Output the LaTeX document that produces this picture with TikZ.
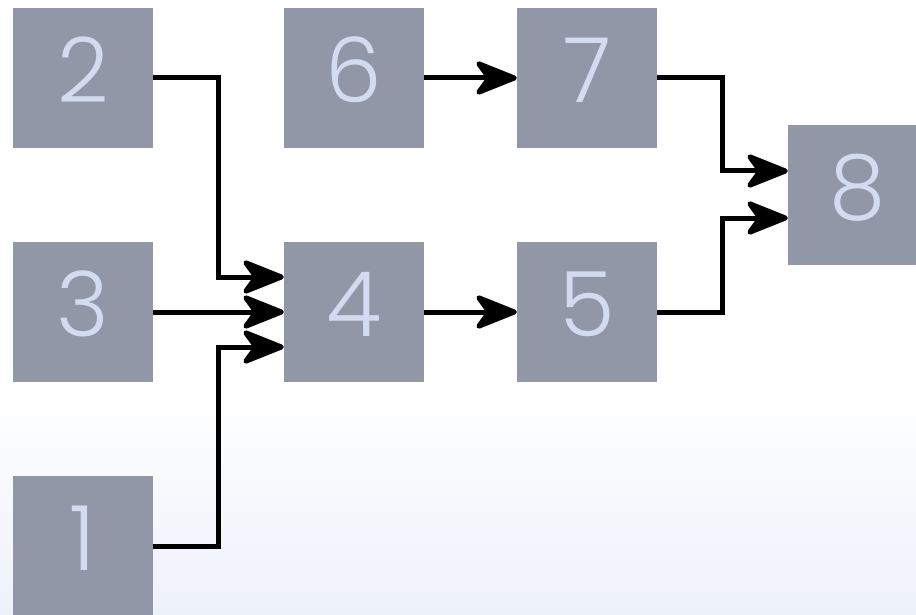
\documentclass[tikz,border=0pt]{standalone}
\usepackage{fontspec}
\setmainfont{Poppins}[UprightFont=* Light]
\usetikzlibrary{arrows.meta,calc}
\definecolor{boxc}{HTML}{9197A7}
\definecolor{txtc}{HTML}{D3DBF0}
\definecolor{bgb}{HTML}{EDF1FA}
\tikzset{
  box/.style={fill=boxc, text=txtc, minimum size=140pt, inner sep=0pt,
    font=\fontsize{90}{90}\selectfont, text depth=16pt},
  conn/.style={draw=black, line width=5pt, line join=miter,
    -{Stealth[length=49pt,width=39pt,inset=14pt,round]}}
}
\begin{document}
\begin{tikzpicture}[x=1pt,y=-1pt]
\useasboundingbox (0,0) rectangle (916,615);
\clip (0,0) rectangle (916,615);
\fill[white] (0,0) rectangle (916,390);
\shade[top color=white, bottom color=bgb] (0,389) rectangle (916,615);
\node[box] (n2) at (83,78) {2};
\node[box] (n6) at (354,78) {6};
\node[box] (n7) at (587,78) {7};
\node[box] (n3) at (83,312) {3};
\node[box] (n4) at (354,312) {4};
\node[box] (n5) at (587,312) {5};
\node[box] (n1) at (83,546) {1};
\node[box] (n8) at (858,195) {8};
\coordinate (j1) at (218,0);
\coordinate (j2) at (722,0);
\draw[conn] (n2.east) -- (n2.east -| j1) |- ([yshift=35pt]n4.west);
\draw[conn] (n3.east) -- (n4.west);
\draw[conn] (n1.east) -- (n1.east -| j1) |- ([yshift=-35pt]n4.west);
\draw[conn] (n6.east) -- (n7.west);
\draw[conn] (n4.east) -- (n5.west);
\draw[conn] (n7.east) -- (n7.east -| j2) |- ([yshift=24pt]n8.west);
\draw[conn] (n5.east) -- (n5.east -| j2) |- ([yshift=-23pt]n8.west);
\end{tikzpicture}
\end{document}
